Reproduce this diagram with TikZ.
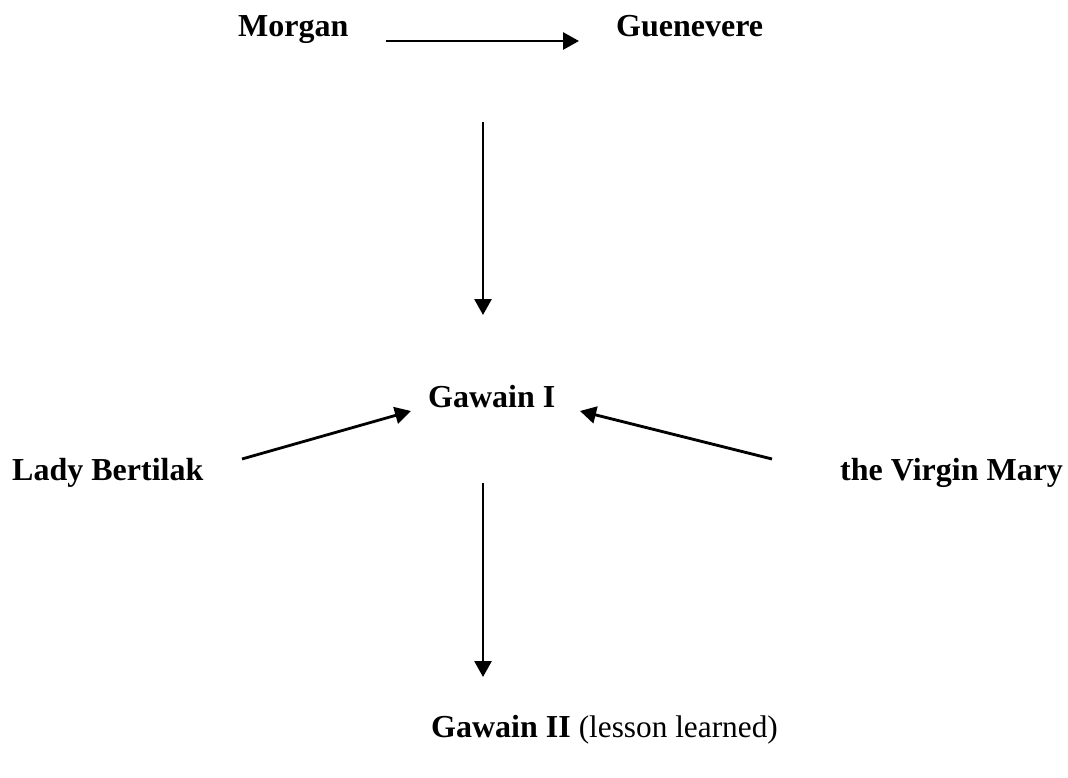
\documentclass[tikz,border=0pt]{standalone}
\usepackage{fontspec}
\setmainfont{Liberation Serif}
\usetikzlibrary{arrows.meta}
\begin{document}
\begin{tikzpicture}[x=1pt,y=-1pt,
  lbl/.style={inner sep=0pt,anchor=base west,font=\fontsize{32}{38}\selectfont\bfseries},
  conn/.style={line width=2.8pt,-{Triangle[length=16pt,width=17pt]}}]
\useasboundingbox[fill=white] (0,0) rectangle (1068,778);
\node[lbl] (morgan) at (238,37) {Morgan};
\node[lbl] (guen) at (616,37) {Guenevere};
\node[lbl] (gawainI) at (428,407) {Gawain I};
\node[lbl] (lady) at (12,480) {Lady Bertilak};
\node[lbl] (virgin) at (840,480) {the Virgin Mary};
\node[lbl] (gawainII) at (431,737) {Gawain II \mdseries\fontsize{31.3}{38}\selectfont(lesson learned)};
\coordinate (mgS) at (386,41);
\coordinate (mgE) at (579,41);
\coordinate (gwS) at (483,122);
\coordinate (gwE) at (483,315);
\coordinate (lbS) at (242,459);
\coordinate (lbE) at (411,411);
\coordinate (vmS) at (772,459);
\coordinate (vmE) at (580,411);
\coordinate (g2S) at (483,483);
\coordinate (g2E) at (483,677);
\draw[conn] (mgS) -- (mgE);
\draw[conn] (gwS) -- (gwE);
\draw[conn] (lbS) -- (lbE);
\draw[conn] (vmS) -- (vmE);
\draw[conn] (g2S) -- (g2E);
\end{tikzpicture}
\end{document}
